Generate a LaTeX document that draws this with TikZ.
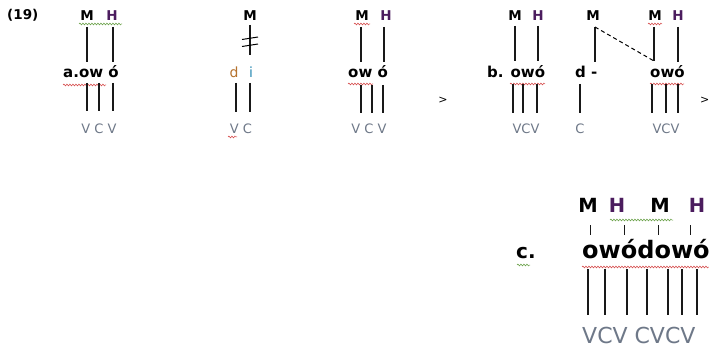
\documentclass[tikz,border=0pt]{standalone}
\usepackage{fontspec}
\setmainfont{DejaVu Sans}
\newfontfamily\dv{DejaVu Sans}
\usetikzlibrary{decorations.pathmorphing}
\definecolor{hpurple}{HTML}{4B1C5E}
\definecolor{cvgray}{HTML}{6E7888}
\definecolor{dorange}{HTML}{B5722E}
\definecolor{iteal}{HTML}{2E8DB5}
\definecolor{wred}{HTML}{D23C3C}
\definecolor{wgreen}{HTML}{5E9A3A}
\begin{document}
\begin{tikzpicture}[x=1pt,y=-1pt,
  tone/.style={font=\dv\bfseries\fontsize{13.5}{15}\selectfont, inner sep=0pt, anchor=base},
  htone/.style={tone, text=hpurple},
  seg/.style={font=\dv\bfseries\fontsize{15}{17}\selectfont, inner sep=0pt, anchor=base west},
  cv/.style={font=\dv\fontsize{13}{15}\selectfont, inner sep=0pt, anchor=base, text=cvgray},
  bigtone/.style={font=\dv\bfseries\fontsize{19.5}{21}\selectfont, inner sep=0pt, anchor=base},
  assoc/.style={draw=black!90, line width=1.1pt},
  redwave/.style={draw=wred, line width=0.5pt, decorate, decoration={snake, amplitude=0.9pt, segment length=3pt}},
  greenwave/.style={draw=wgreen, line width=0.5pt, decorate, decoration={snake, amplitude=0.9pt, segment length=3pt}}
]
\useasboundingbox[fill=white] (0,0) rectangle (709,350);

% (19)
\node[font=\dv\bfseries\fontsize{13.5}{15}\selectfont, inner sep=0pt, anchor=base west] (num) at (7,19.5) {(19)};

% group a
\node[tone] (aM) at (87,21) {M};
\node[htone] (aH) at (112,21) {H};
\draw[greenwave] (79,24) -- (122,24);
\node[seg] (aW) at (63,78) {a.ow ó};
\draw[redwave] (63,85) -- (106,85);
\draw[assoc] (87,27) -- (87,62);
\draw[assoc] (113,27) -- (113,62);
\draw[assoc] (87,83) -- (87,111);
\draw[assoc] (99,83) -- (99,111);
\draw[assoc] (113,83) -- (113,111);
\node[cv] (aCV) at (99,133) {V C V};

% group 2 (d i)
\node[tone] (dM) at (250,21) {M};
\draw[assoc] (250,25) -- (250,55);
\draw[line width=1pt] (242,39.5) -- (258,37);
\draw[line width=1pt] (242,46.5) -- (258,44);
\node[font=\dv\fontsize{14}{16}\selectfont, inner sep=0pt, anchor=base, text=dorange] (dD) at (234,78) {d};
\node[font=\dv\fontsize{14}{16}\selectfont, inner sep=0pt, anchor=base, text=iteal] (dI) at (251,78) {i};
\draw[assoc] (236,83) -- (236,112);
\draw[assoc] (250,83) -- (250,112);
\node[cv] (dCV) at (241,133) {V C};
\draw[redwave] (228,137) -- (237,137);

% group 3
\node[tone] (cM) at (362,21) {M};
\node[htone] (cH) at (386,21) {H};
\draw[redwave] (354,24) -- (370,24);
\draw[assoc] (361,27) -- (361,62);
\draw[assoc] (384,27) -- (384,62);
\node[seg] (cW) at (348,78) {ow ó};
\draw[redwave] (348,84) -- (373,84);
\draw[assoc] (361,85) -- (361,113);
\draw[assoc] (372,85) -- (372,113);
\draw[assoc] (383,85) -- (383,113);
\node[cv] (cCV) at (369,133) {V C V};
\node[font=\dv\fontsize{11}{13}\selectfont, inner sep=0pt, anchor=base] (gt1) at (443,103.5) {>};

% group b
\node[tone] (bM) at (515,21) {M};
\node[htone] (bH) at (538,21) {H};
\draw[assoc] (515,26) -- (515,61);
\draw[assoc] (538,26) -- (538,61);
\node[seg] (bW) at (487,78) {b. owó};
\draw[redwave] (510,84) -- (545,84);
\draw[assoc] (513,84) -- (513,113);
\draw[assoc] (523,84) -- (523,113);
\draw[assoc] (537,84) -- (537,113);
\node[cv] (bCV) at (526,133) {VCV};

% middle d -
\node[tone] (mM) at (593,21) {M};
\coordinate (mTop) at (595,27);
\coordinate (rEnd) at (654,61);
\draw[assoc] (mTop) -- (595,62);
\draw[line width=1pt, dash pattern=on 4pt off 3pt] (mTop) -- (rEnd);
\node[seg] (mW) at (575,78) {d -};
\draw[assoc] (580,84) -- (580,113);
\node[cv] (mCV) at (580,133) {C};

% right group
\node[tone] (rM) at (655,21) {M};
\node[htone] (rH) at (678,21) {H};
\draw[redwave] (648,24) -- (662,24);
\draw[assoc] (654,27) -- (rEnd);
\draw[assoc] (678,27) -- (678,62);
\node[seg] (rW) at (650,78) {owó};
\draw[redwave] (650,84) -- (684,84);
\draw[assoc] (652,84) -- (652,113);
\draw[assoc] (666,84) -- (666,113);
\draw[assoc] (678,84) -- (678,113);
\node[cv] (rCV) at (666,133) {VCV};
\node[font=\dv\fontsize{11}{13}\selectfont, inner sep=0pt, anchor=base west] (gt2) at (700,103.5) {>};

% row c
\node[font=\dv\bfseries\fontsize{20}{22}\selectfont, inner sep=0pt, anchor=base west] (cLab) at (516,258) {c.};
\draw[greenwave] (517,265) -- (530,265);
\node[bigtone] (xM1) at (588,212) {M};
\node[bigtone, text=hpurple] (xH1) at (617,212) {H};
\node[bigtone] (xM2) at (660,212) {M};
\node[bigtone, text=hpurple] (xH2) at (697,212) {H};
\draw[greenwave] (610,220) -- (673,220);
\draw[assoc, line width=1pt] (590,225) -- (590,235);
\draw[assoc, line width=1pt] (624,225) -- (624,235);
\draw[assoc, line width=1pt] (658,225) -- (658,235);
\draw[assoc, line width=1pt] (690,225) -- (690,235);
\node[font=\dv\bfseries\fontsize{24}{26}\selectfont, inner sep=0pt, anchor=base west] (xW) at (582,258) {owódowó};
\draw[redwave] (582,267) -- (709,267);
\foreach \xx in {588,605,627,647,668,682,697} {
  \draw[assoc, line width=1.3pt] (\xx,269) -- (\xx,315);
}
\node[font=\dv\fontsize{22}{24}\selectfont, inner sep=0pt, anchor=base west, text=cvgray] (xCV) at (582,343) {VCV CVCV};
\end{tikzpicture}
\end{document}
